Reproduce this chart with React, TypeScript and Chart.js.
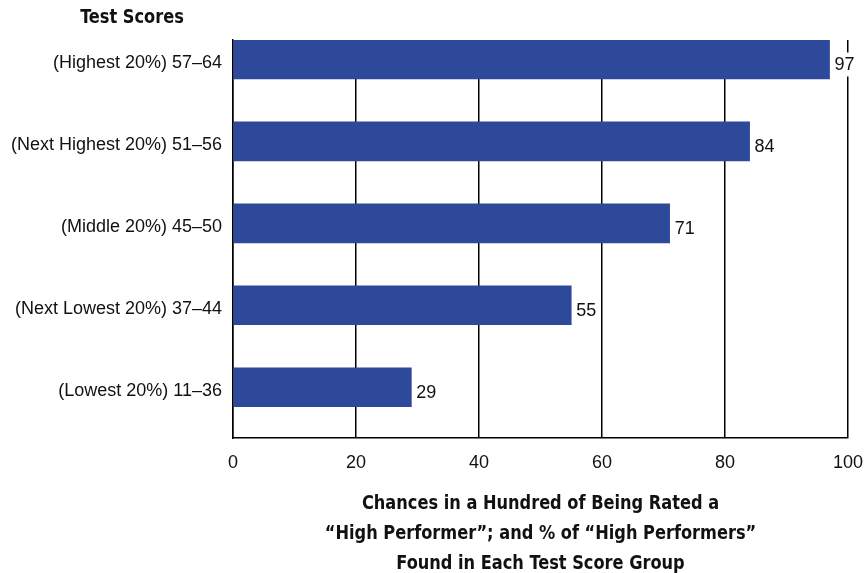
import React, { useEffect, useRef } from "react";
import { Chart, registerables } from "chart.js";

Chart.register(...registerables);

const categories = [
  "(Highest 20%) 57–64",
  "(Next Highest 20%) 51–56",
  "(Middle 20%) 45–50",
  "(Next Lowest 20%) 37–44",
  "(Lowest 20%) 11–36",
];
const values = [97, 84, 71, 55, 29];
const xTicks = [0, 20, 40, 60, 80, 100];
const yTitle = "Test Scores";
const xTitle = [
  "Chances in a Hundred of Being Rated a",
  "“High Performer”; and % of “High Performers”",
  "Found in Each Test Score Group",
];

const TITLE_FONT = "'Liberation Sans Narrow', 'DejaVu Sans Condensed', 'Liberation Sans', sans-serif";
const FONT = "'Liberation Sans', Arial, sans-serif";
const BAR = "#2E4999";

export default function App() {
  const ref = useRef<HTMLCanvasElement | null>(null);
  useEffect(() => {
    document.body.style.margin = "0";
    const canvas = ref.current!;
    const drawCondensed = (ctx: any, text: string, cx: number, cy: number) => {
      ctx.save();
      ctx.translate(cx, cy);
      ctx.scale(0.9, 1);
      ctx.fillText(text, 0, 0);
      ctx.restore();
    };
    const labelsPlugin = {
      id: "extras",
      afterDatasetsDraw(chart: any) {
        const ctx = chart.ctx;
        const xs = chart.scales.x;
        const ys = chart.scales.y;
        ctx.save();
        ctx.font = `18px ${FONT}`;
        ctx.textBaseline = "middle";
        ctx.textAlign = "left";
        values.forEach((v, i) => {
          const x = xs.getPixelForValue(v) + 5;
          const y = ys.getPixelForValue(i) + 5;
          const t = String(v);
          const w = ctx.measureText(t).width;
          ctx.fillStyle = "#fff";
          ctx.fillRect(x - 1, y - 12, w + 2, 24);
          ctx.fillStyle = "#111";
          ctx.fillText(t, x, y + 1);
        });
        ctx.font = `bold 20px ${TITLE_FONT}`;
        ctx.textAlign = "center";
        ctx.fillStyle = "#111";
        drawCondensed(ctx, yTitle, 132, 18);
        const cx = (chart.chartArea.left + chart.chartArea.right) / 2;
        xTitle.forEach((line, k) => {
          drawCondensed(ctx, line, cx, 504 + k * 30);
        });
        ctx.restore();
      },
    };
    const chart = new Chart(canvas, {
      type: "bar",
      data: {
        datasets: [
          {
            data: values.map((v, i) => ({ x: v, y: i })),
            backgroundColor: BAR,
            barThickness: 39,
          },
        ],
      },
      options: {
        indexAxis: "y",
        animation: false,
        responsive: false,
        layout: { padding: { top: 40, right: 18, left: 0, bottom: 0 } },
        plugins: { legend: { display: false }, tooltip: { enabled: false } },
        scales: {
          x: {
            type: "linear",
            min: 0,
            max: 100,
            afterBuildTicks: (axis: any) => {
              axis.ticks = xTicks.map((v) => ({ value: v }));
            },
            afterFit: (s: any) => {
              s.height = 135;
              s.paddingLeft = 0;
              s.paddingRight = 0;
            },
            grid: { color: "#000", lineWidth: 1.5, drawTicks: false },
            border: { display: true, color: "#000", width: 1.5 },
            ticks: {
              padding: 14,
              color: "#111",
              font: { family: FONT, size: 18 },
            },
          },
          y: {
            type: "linear",
            reverse: true,
            offset: false,
            min: -0.238,
            max: 4.62,
            afterBuildTicks: (axis: any) => {
              axis.ticks = categories.map((_, i) => ({ value: i }));
            },
            afterFit: (s: any) => {
              s.width = 233;
              s.paddingTop = 0;
              s.paddingBottom = 0;
            },
            grid: { display: false, drawTicks: false, offset: false },
            border: { display: true, color: "#000", width: 1.5 },
            ticks: {
              padding: 11,
              labelOffset: 4,
              color: "#111",
              font: { family: FONT, size: 18 },
              callback: (v: any) => categories[v as number] ?? "",
            },
          },
        },
      },
      plugins: [labelsPlugin],
    } as any);
    return () => chart.destroy();
  }, []);
  return (
    <div style={{ width: 866, height: 573 }}>
      <canvas ref={ref} width={866} height={573} />
    </div>
  );
}
